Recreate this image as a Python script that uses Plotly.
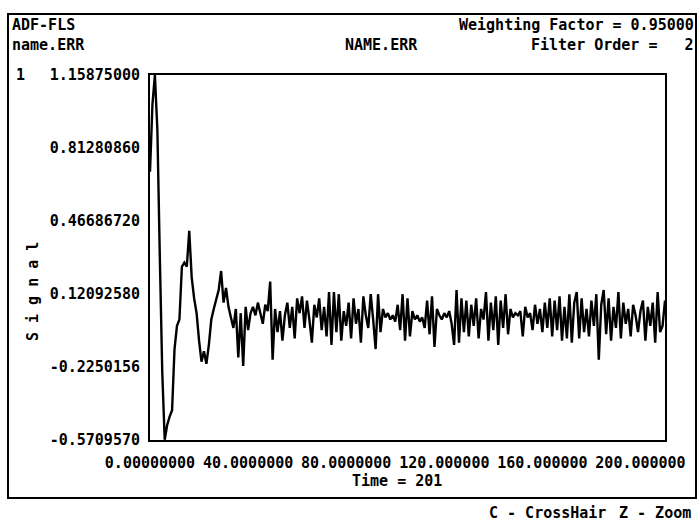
import plotly.graph_objects as go

# ---------------- data ----------------
time_start = 0
signal = [
    0.70, 1.02, 1.15875, 0.90, 0.30, -0.25, -0.57, -0.50, -0.46, -0.43,
    -0.14, -0.03, 0.00, 0.25, 0.27, 0.25, 0.42, 0.20, 0.10, 0.03,
    -0.10, -0.20, -0.15, -0.21, -0.12, 0.00, 0.05, 0.10, 0.14, 0.23,
    0.08, 0.15, 0.06, 0.01, -0.04, 0.05, -0.18, 0.03, -0.22, 0.06,
    -0.05,
    0.03, 0.06, 0.02, 0.08, 0.03, -0.02, 0.07, 0.04, 0.18, -0.19,
    0.05, -0.06, 0.04, -0.10, 0.02, 0.08, -0.04, 0.06, -0.09, 0.10,
    0.03, 0.11, -0.04, 0.09, 0.00, -0.11, 0.07, 0.01, 0.10, -0.05,
    0.06, -0.08, 0.13, -0.12, 0.13, -0.06, 0.12, -0.10, 0.04, -0.03,
    0.08, -0.09, 0.10, -0.02, 0.05, -0.11, 0.11, 0.02, -0.04, 0.12,
    0.00, -0.14, 0.12, -0.06, 0.05, 0.01, 0.03, 0.00, 0.02, -0.01,
    0.07, -0.05, 0.12, -0.10, 0.10, -0.08, 0.04, 0.00, 0.02, -0.01,
    0.01, -0.04, 0.09, -0.07, 0.11, -0.13, 0.05, 0.02, 0.00, 0.03,
    0.01, 0.04, -0.02, -0.12, 0.14, -0.11, 0.10, -0.06, 0.09, -0.08,
    0.07, -0.03, 0.10, -0.09, 0.05, 0.00, 0.13, -0.10, 0.08, -0.05,
    0.11, -0.12, 0.09, -0.04, 0.12, -0.07, 0.05, 0.01, 0.03, 0.02,
    0.04, -0.08, 0.06, 0.01, 0.03, -0.05, 0.07, -0.02, 0.05, -0.06,
    0.08, -0.04, 0.10, -0.08, 0.09, -0.05, 0.11, -0.10, 0.06, -0.09,
    0.12, -0.11, 0.08, 0.13, -0.09, 0.10, -0.06, 0.05, -0.08, 0.09,
    -0.03, 0.12, -0.19, 0.07, 0.14, -0.07, 0.10, -0.10, 0.06, -0.04,
    0.13, -0.09, 0.08, -0.02, 0.05, -0.08, 0.07, 0.02, -0.06, 0.04,
    0.09, -0.10, 0.06, -0.03, 0.08, -0.11, 0.13, -0.06, -0.03, 0.09,
]
time = list(range(time_start, time_start + len(signal)))

x_tick_values = [0, 40, 80, 120, 160, 200]
x_tick_labels = ["0.00000000", "40.0000000", "80.0000000",
                 "120.000000", "160.000000", "200.000000"]
y_tick_values = [1.15875, 0.8128086, 0.4668672, 0.1209258, -0.2250156, -0.570957]
y_tick_labels = ["1.15875000", "0.81280860", "0.46686720",
                 "0.12092580", "-0.2250156", "-0.5709570"]
x_range = [0, 210]
y_range = [-0.570957, 1.15875]

header_left = ["ADF-FLS", "name.ERR"]
header_center = "NAME.ERR"
header_right = ["Weighting Factor = 0.95000", "Filter Order =   2"]
x_title = "Time = 201"
y_title = "S i g n a l"
footer = ["C - CrossHair", "Z - Zoom"]

# ---------------- layout geometry (px) ----------------
W, H = 698, 523
L, R, T, B = 150, 665, 75, 440

def px(x):
    return (x - L) / (R - L)

def py(y):
    return (B - y) / (B - T)

FONT = dict(family="DejaVu Sans Mono, Liberation Mono, monospace",
            size=15, color="black", weight="bold")

fig = go.Figure()
fig.add_trace(go.Scatter(x=time, y=signal, mode="lines",
                         line=dict(color="black", width=2.4),
                         hoverinfo="skip", showlegend=False))

def ann(text, x, y, xa="left", ya="middle", angle=0, size=15):
    f = dict(FONT)
    f["size"] = size
    fig.add_annotation(text=text, x=px(x), y=py(y), xref="paper", yref="paper",
                       xanchor=xa, yanchor=ya, showarrow=False, font=f,
                       textangle=angle)

ann(header_left[0], 10, 25)
ann(header_left[1], 10, 45)
ann(header_center, 381, 45, xa="center")
ann(header_right[0], 696, 25, xa="right")
ann(header_right[1], 696, 45, xa="right")
ann("1", 14, 75)
ann(x_title, 397, 481, xa="center")
ann(y_title, 33, 292, xa="center", angle=-90, size=15)
ann(footer[0], 487, 513)
ann(footer[1], 617, 513)

# outer frame
fig.add_shape(type="rect", xref="paper", yref="paper",
              x0=px(8), x1=px(696), y0=py(498), y1=py(14),
              line=dict(color="black", width=2), layer="below")

fig.update_layout(
    width=W, height=H,
    margin=dict(l=L, r=W - R, t=T, b=H - B),
    paper_bgcolor="white", plot_bgcolor="white",
    font=FONT,
    xaxis=dict(range=x_range, tickvals=x_tick_values, ticktext=x_tick_labels,
               showline=True, mirror=True, linecolor="black", linewidth=2,
               showgrid=False, zeroline=False, ticks="", ticklabelstandoff=8,
               tickfont=FONT, fixedrange=True),
    yaxis=dict(range=y_range, tickvals=y_tick_values, ticktext=y_tick_labels,
               showline=True, mirror=True, linecolor="black", linewidth=2,
               showgrid=False, zeroline=False, ticks="", ticklabelstandoff=5,
               tickfont=FONT, fixedrange=True),
    showlegend=False,
)

fig.write_html("out.html")
